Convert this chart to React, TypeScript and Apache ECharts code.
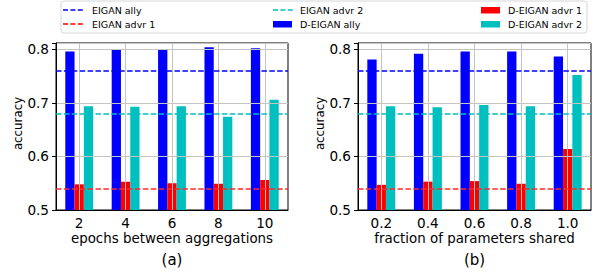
import React, { useEffect, useRef } from "react";
import * as echarts from "echarts";

const categoriesA = ["2", "4", "6", "8", "10"];
const categoriesB = ["0.2", "0.4", "0.6", "0.8", "1.0"];

const allyA = [0.796, 0.799, 0.801, 0.804, 0.802];
const advr1A = [0.548, 0.553, 0.55, 0.549, 0.556];
const advr2A = [0.694, 0.693, 0.694, 0.674, 0.706];

const allyB = [0.781, 0.792, 0.796, 0.796, 0.787];
const advr1B = [0.547, 0.553, 0.554, 0.549, 0.614];
const advr2B = [0.694, 0.692, 0.696, 0.694, 0.752];

const eiganAlly = 0.7565;
const eiganAdvr1 = 0.54;
const eiganAdvr2 = 0.6795;

const yMin = 0.5;
const yMax = 0.812;
const yInterval = 0.1;

const xNames = ["epochs between aggregations", "fraction of parameters shared"];
const panelLabels = ["(a)", "(b)"];
const yName = "accuracy";

const legendLines = ["EIGAN ally", "EIGAN advr 1", "EIGAN advr 2"];
const legendBars = ["D-EIGAN ally", "D-EIGAN advr 1", "D-EIGAN advr 2"];

const BLUE = "#0000ff";
const RED = "#ff0000";
const CYAN = "#00bfbf";
const FONT = "DejaVu Sans";

export default function App() {
  const ref = useRef<HTMLDivElement>(null);
  useEffect(() => {
    if (!ref.current) return;
    const chart = echarts.init(ref.current, null, { renderer: "svg" });
    const grids = [
      { left: 56, top: 43, width: 232, height: 167 },
      { left: 358, top: 43, width: 233, height: 167 },
    ];
    const cats = [categoriesA, categoriesB];
    const xAxis = cats.map((c, i) => ({
      type: "category",
      gridIndex: i,
      data: c,
      z: 3,
      name: xNames[i],
      nameLocation: "middle",
      nameGap: 22,
      nameMoveOverlap: false,
      nameTextStyle: { fontFamily: FONT, fontSize: 13.4, color: "#000" },
      axisLine: { lineStyle: { color: "#000", width: 1 } },
      axisTick: { alignWithLabel: true, length: 4, lineStyle: { color: "#000" } },
      axisLabel: { fontFamily: FONT, fontSize: 13.6, color: "#000", margin: 6, interval: 0 },
      splitLine: { show: true, alignWithLabel: true, interval: 0, lineStyle: { color: "#c4c4c4", width: 1 } },
    }));
    const yAxis = [0, 1].map((i) => ({
      type: "value",
      gridIndex: i,
      min: yMin,
      max: yMax,
      interval: yInterval,
      z: 3,
      name: yName,
      nameLocation: "middle",
      nameGap: 32,
      nameMoveOverlap: false,
      nameTextStyle: { fontFamily: FONT, fontSize: 11.8, color: "#000", padding: [0, 0, 0, 6] },
      axisLine: { show: true, lineStyle: { color: "#000", width: 1 } },
      axisTick: { show: true, length: 4, lineStyle: { color: "#000" } },
      axisLabel: {
        fontFamily: FONT,
        fontSize: 13.6,
        color: "#000",
        margin: 7,
        formatter: (v: number) =>
          Math.abs(v * 10 - Math.round(v * 10)) < 1e-6 ? v.toFixed(1) : "",
      },
      splitLine: { show: true, lineStyle: { color: "#c4c4c4", width: 1 } },
    }));
    const dash = [5.5, 2.4];
    const markLine = {
      silent: true,
      symbol: "none",
      label: { show: false },
      z: 6,
      data: [
        { yAxis: eiganAlly, lineStyle: { color: BLUE, type: dash, width: 1.5 } },
        { yAxis: eiganAdvr2, lineStyle: { color: CYAN, type: dash, width: 1.5 } },
        { yAxis: eiganAdvr1, lineStyle: { color: "#ff2a2a", type: dash, width: 1.5 } },
      ],
    };
    const data = [
      [allyA, advr1A, advr2A],
      [allyB, advr1B, advr2B],
    ];
    const colors = [BLUE, RED, CYAN];
    const series: any[] = [];
    data.forEach((group, gi) => {
      group.forEach((vals, si) => {
        series.push({
          type: "bar",
          name: legendBars[si],
          xAxisIndex: gi,
          yAxisIndex: gi,
          data: vals,
          barGap: "0%",
          barCategoryGap: "40%",
          z: 2,
          itemStyle: { color: colors[si] },
          markLine: si === 0 ? markLine : undefined,
        });
      });
    });

    const lx = [63, 273, 481];
    const tx = [92, 300, 508];
    const rows = [10, 24];
    const entries = [
      { kind: "line", color: BLUE, text: legendLines[0] },
      { kind: "line", color: RED, text: legendLines[1] },
      { kind: "line", color: CYAN, text: legendLines[2] },
      { kind: "bar", color: BLUE, text: legendBars[0] },
      { kind: "bar", color: RED, text: legendBars[1] },
      { kind: "bar", color: CYAN, text: legendBars[2] },
    ];
    const graphic: any[] = [
      {
        type: "rect",
        shape: { x: 61, y: 1, width: 526, height: 32, r: 3 },
        style: { fill: "#fff", stroke: "#d6d6d6", lineWidth: 1 },
        z: 10,
      },
    ];
    entries.forEach((e, k) => {
      const col = Math.floor(k / 2);
      const row = k % 2;
      const y = rows[row];
      if (e.kind === "line") {
        graphic.push({
          type: "line",
          shape: { x1: lx[col], y1: y, x2: lx[col] + 20, y2: y },
          style: { stroke: e.color, lineWidth: 1.5, lineDash: [5, 2.4] },
          z: 11,
        });
      } else {
        graphic.push({
          type: "rect",
          shape: { x: lx[col], y: y - 3, width: 19, height: 6.5 },
          style: { fill: e.color },
          z: 11,
        });
      }
      graphic.push({
        type: "text",
        x: tx[col],
        y,
        style: {
          text: e.text,
          fontFamily: FONT,
          fontSize: 9.5,
          fill: "#000",
          verticalAlign: "middle",
          align: "left",
        },
        z: 11,
      });
    });
    panelLabels.forEach((t, i) => {
      graphic.push({
        type: "text",
        x: grids[i].left + grids[i].width / 2,
        y: 260,
        style: {
          text: t,
          fontFamily: FONT,
          fontSize: 15,
          fill: "#000",
          align: "center",
          verticalAlign: "middle",
        },
      });
    });

    chart.setOption({
      animation: false,
      backgroundColor: "#fff",
      grid: grids.map((g) => ({
        ...g,
        show: true,
        borderColor: "#000",
        borderWidth: 1,
        backgroundColor: "transparent",
      })),
      xAxis,
      yAxis,
      series,
      graphic,
    });
    return () => chart.dispose();
  }, []);
  return (
    <div
      ref={ref}
      style={{ position: "fixed", left: 0, top: 0, width: 599, height: 273 }}
    />
  );
}
